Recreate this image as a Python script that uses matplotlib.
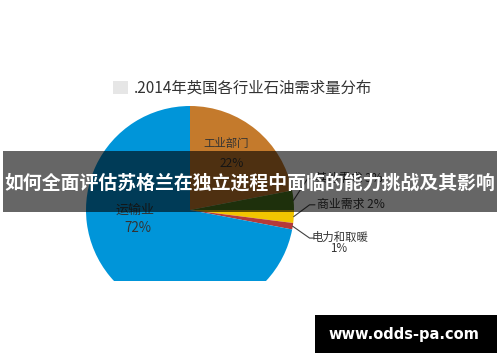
import matplotlib
matplotlib.use("Agg")
import matplotlib.pyplot as plt
from matplotlib.patches import Rectangle
import numpy as np

plt.rcParams['font.family'] = ['Noto Sans CJK SC', 'DejaVu Sans']

# ---- data ----
categories = ["工业部门", "其他需求", "商业需求", "电力和取暖", "运输业"]
values = [22, 3, 2, 1, 72]
colors = ["#C47A2C", "#4B7A1E", "#F2C500", "#B53A3A", "#0095D9"]
title = ".2014年英国各行业石油需求量分布"
banner = "如何全面评估苏格兰在独立进程中面临的能力挑战及其影响"
watermark = "www.odds-pa.com"

W, H = 500, 362
fig = plt.figure(figsize=(W / 100, H / 100), dpi=100)
fig.patch.set_facecolor("white")

def fx(px):
    return px / W

def fy(py):
    return 1 - py / H

# pie axes: centre (190,210) px, radius 104 px, clipped at y=281 px
cx, cy, r = 190, 210, 104
ybot = 281
ax = fig.add_axes([fx(cx - r), fy(ybot), 2 * r / W, (ybot - (cy - r)) / H])
wedges, _ = ax.pie(values, colors=colors, startangle=90, counterclock=False,
                   radius=1, wedgeprops=dict(linewidth=0))
for w in wedges:
    w.set_clip_on(True)
    w.set_clip_path(ax.patch)
ax.set_aspect('auto')
ax.set_xlim(-1, 1)
ax.set_ylim(-(ybot - cy) / r, 1)
ax.axis('off')

tc = "#333333"
fs = 8.2
# slice labels
ax.text(0.35, 0.64, categories[0], ha='center', va='center', fontsize=fs, color=tc)
ax.text(0.40, 0.45, f"{values[0]}%", ha='center', va='center', fontsize=8.6, color=tc)
ax.text(-0.53, 0.0, categories[4], ha='center', va='center', fontsize=9.4, color=tc)
ax.text(-0.50, -0.17, f"{values[4]}%", ha='center', va='center', fontsize=9.6, color=tc)

def mid_point(w):
    a = np.deg2rad((w.theta1 + w.theta2) / 2)
    return np.cos(a), np.sin(a)

# outside labels with leaders
outs = [
    (1, (1.13, 0.30), (1.18, 0.30), f"{categories[1]} {values[1]}%"),
    (2, (1.15, 0.05), (1.20, 0.05), f"{categories[2]} {values[2]}%"),
]
for idx, elbow, end, txt in outs:
    x0, y0 = mid_point(wedges[idx])
    ax.plot([x0, elbow[0], end[0]], [y0, elbow[1], end[1]], color="#404040",
            lw=0.8, clip_on=False)
    ax.text(end[0] + 0.02, end[1], txt, ha='left', va='center', fontsize=8.6,
            color=tc, clip_on=False)

x0, y0 = mid_point(wedges[3])
ax.plot([x0, 1.15, 1.19], [y0, -0.27, -0.27], color="#404040", lw=0.8, clip_on=False)
ax.text(1.44, -0.26, categories[3], ha='center', va='center', fontsize=fs, color=tc)
ax.text(1.43, -0.375, f"{values[3]}%", ha='center', va='center', fontsize=8.4, color=tc)

# title
fig.patches.append(Rectangle((fx(113), fy(94)), 15 / W, 13 / H, transform=fig.transFigure,
                             facecolor="#E6E6E6", edgecolor="none"))
fig.text(fx(134), fy(88), title, ha='left', va='center', fontsize=11.1, color=tc)

# banner
fig.patches.append(Rectangle((fx(3), fy(212)), 494 / W, 61 / H, transform=fig.transFigure,
                             facecolor="black", alpha=0.6, edgecolor="none", zorder=10))
fig.text(fx(250), fy(183), banner, ha='center', va='center', fontsize=13.6,
         fontweight='bold', color='white', zorder=11)

# watermark
fig.patches.append(Rectangle((fx(315), fy(353)), 182 / W, 38 / H, transform=fig.transFigure,
                             facecolor="black", edgecolor="none", zorder=10))
fig.text(fx(404), fy(335), watermark, ha='center', va='center', fontsize=10.5,
         fontweight='bold', color='white', family='DejaVu Sans', zorder=11)

fig.savefig("out.png", dpi=100, facecolor="white")
